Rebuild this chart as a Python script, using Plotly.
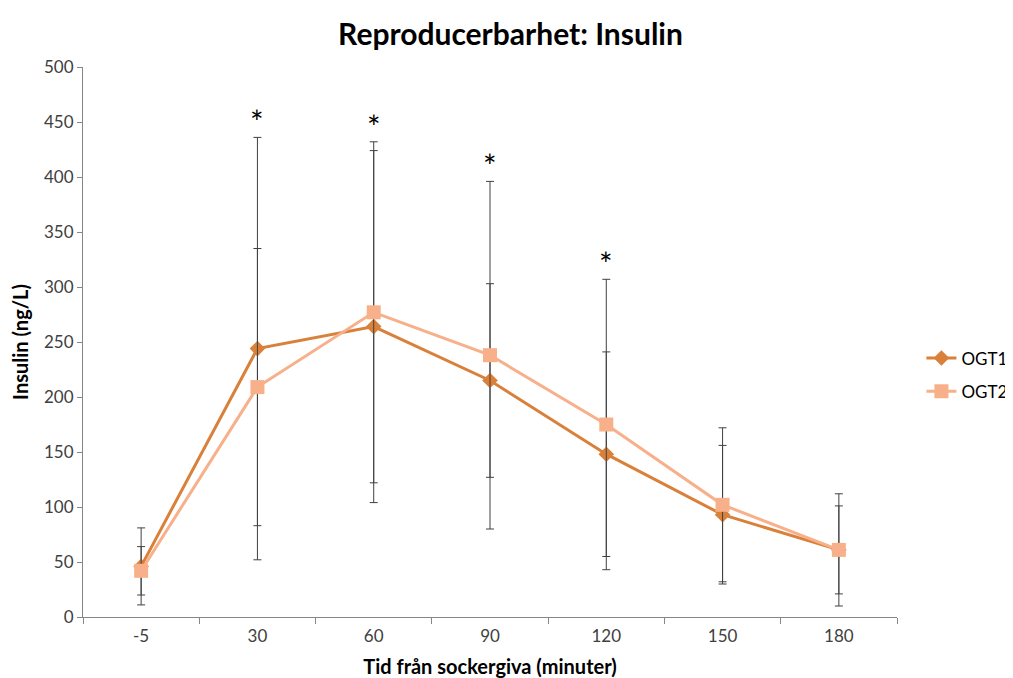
import plotly.graph_objects as go

categories = ["-5", "30", "60", "90", "120", "150", "180"]
ogt1_mean = [46, 244, 264, 215, 148, 93, 61]
ogt1_err = [35, 192, 160, 88, 93, 63, 40]
ogt2_mean = [42, 209, 277, 238, 175, 102, 61]
ogt2_err = [22, 126, 155, 158, 132, 70, 51]
significant = ["30", "60", "90", "120"]

c1 = "#D9803A"
c2 = "#F7B08A"
font_family = "Lato, 'Open Sans', sans-serif"

fig = go.Figure()
fig.add_trace(go.Scatter(
    x=categories, y=ogt1_mean, name="OGT1", mode="lines+markers", legendgroup="g1",
    line=dict(color=c1, width=3),
    marker=dict(symbol="diamond", size=12, color=c1),
    error_y=dict(type="data", array=ogt1_err, visible=True, color="#404040", thickness=1, width=4),
))
fig.add_trace(go.Scatter(
    x=categories, y=ogt2_mean, name="OGT2", mode="lines+markers", legendgroup="g2",
    line=dict(color=c2, width=3),
    marker=dict(symbol="square", size=14, color=c2),
    error_y=dict(type="data", array=ogt2_err, visible=True, color="#404040", thickness=1, width=4),
))

for cat in significant:
    i = categories.index(cat)
    top = max(ogt1_mean[i] + ogt1_err[i], ogt2_mean[i] + ogt2_err[i])
    fig.add_annotation(x=i, y=top, xref="x", yref="y", text="*", showarrow=False,
                       yanchor="bottom", yshift=-6,
                       font=dict(size=32, color="#000000", family=font_family))

fig.update_layout(
    width=1005, height=670,
    margin=dict(l=75, r=116, t=59, b=61, autoexpand=False),
    paper_bgcolor="white", plot_bgcolor="white",
    title=dict(text="<b>Reproducerbarhet: Insulin</b>", x=0.5, xanchor="center",
               y=0.96, yanchor="middle", font=dict(size=30, color="#000000", family=font_family)),
    legend=dict(x=1.03, y=0.44, xanchor="left", yanchor="middle",
                font=dict(size=17, color="#000000", family=font_family),
                tracegroupgap=8, itemwidth=30, bgcolor="rgba(0,0,0,0)"),
    showlegend=True,
    font=dict(family=font_family, color="#404040"),
)
fig.update_xaxes(
    type="category", range=[-0.5, 6.5], tickson="boundaries", ticks="outside", ticklen=6,
    tickcolor="#868686", tickangle=0, automargin=False, ticklabelstandoff=4,
    showline=True, linecolor="#868686", linewidth=1, showgrid=False, zeroline=False,
    tickfont=dict(size=17, color="#404040", family=font_family),
    title=dict(text="<b>Tid från sockergiva (minuter)</b>", standoff=16,
               font=dict(size=20, color="#000000", family=font_family)),
)
fig.update_yaxes(
    range=[0, 500], dtick=50, ticks="outside", ticklen=5, tickcolor="#868686", automargin=False,
    showline=True, linecolor="#868686", linewidth=1, showgrid=False, zeroline=False,
    tickfont=dict(size=17, color="#404040", family=font_family),
    title=dict(text="<b>Insulin (ng/L)</b>", standoff=11,
               font=dict(size=20, color="#000000", family=font_family)),
)

fig.write_html("out.html")
